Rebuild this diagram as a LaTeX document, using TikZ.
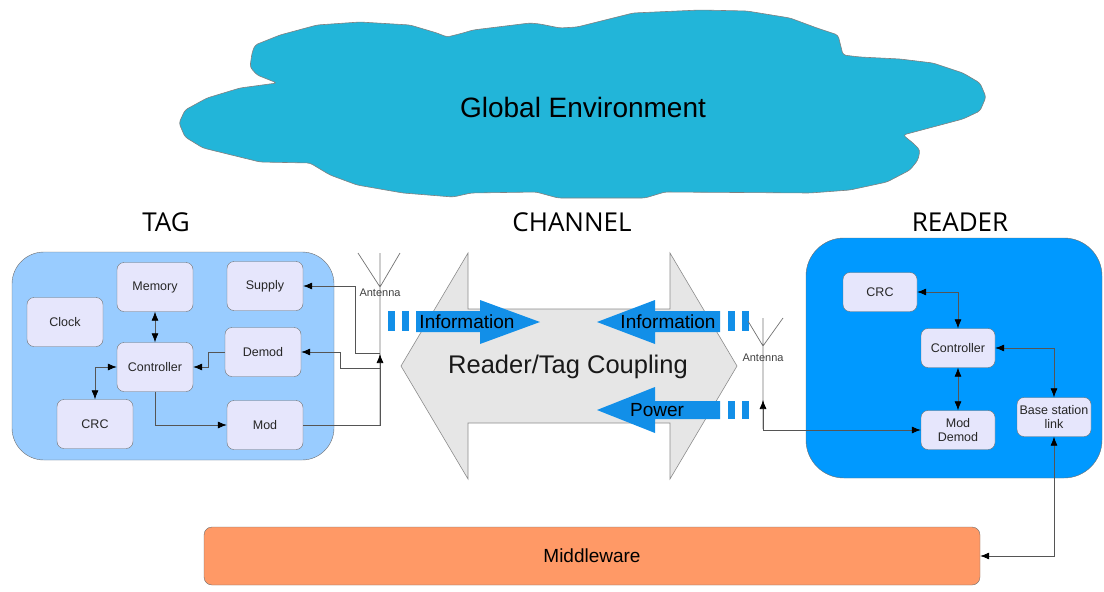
\documentclass[tikz,border=0pt]{standalone}
\usepackage{fontspec}
\setmainfont{Liberation Sans}
\newfontfamily\headfont{Open Sans}
\usetikzlibrary{arrows.meta,positioning}
\definecolor{cloudblue}{RGB}{34,181,217}
\definecolor{tagblue}{RGB}{153,204,255}
\definecolor{readblue}{RGB}{0,153,255}
\definecolor{flowblue}{RGB}{18,143,232}
\definecolor{boxlav}{RGB}{230,230,252}
\definecolor{chgray}{RGB}{230,230,230}
\definecolor{midorange}{RGB}{255,153,102}
\definecolor{edgegray}{RGB}{110,110,110}
\definecolor{wiregray}{RGB}{85,85,85}

\begin{document}
\begin{tikzpicture}[x=1pt, y=-1pt,
  unit/.style={draw=edgegray, fill=boxlav, rounded corners=7pt, inner sep=0pt, align=center, text=black!85, font=\fontsize{12.5}{14}\selectfont},
  tagunit/.style={unit, minimum width=76pt, minimum height=49pt},
  rdunit/.style={unit, minimum width=74pt, minimum height=39pt},
  wire/.style={wiregray, line width=0.7pt},
  onehead/.style={wire, -{Latex[length=9pt,width=7pt,color=black]}},
  twohead/.style={wire, {Latex[length=9pt,width=7pt,color=black]}-{Latex[length=9pt,width=7pt,color=black]}},
  heading/.style={font=\headfont\fontsize{26}{30}\selectfont},
  flowtext/.style={font=\fontsize{19}{22}\selectfont, inner sep=0pt},
  antlabel/.style={font=\fontsize{11}{12}\selectfont, text=black!75, inner sep=0pt}]
\useasboundingbox (0,0) rectangle (1104,592);

% Global environment cloud
\draw[draw=black!50, fill=cloudblue, line width=0.6pt, rounded corners=3pt]
  (179,123) -- (185,110) -- (207,98) -- (240,88) -- (277,83) -- (257,75) -- (250,67) -- (252,53)
  -- (255,45) -- (280,35) -- (317,25) -- (360,22) -- (410,25) -- (437,33) -- (447,37) -- (463,33)
  -- (473,30) -- (530,23) -- (540,24) -- (560,28) -- (577,27) -- (633,13) -- (700,10) -- (747,11)
  -- (790,18) -- (817,28) -- (838,35) -- (843,55) -- (860,57) -- (900,59) -- (933,63) -- (963,73)
  -- (980,83) -- (986,97) -- (980,111) -- (963,119) -- (933,127) -- (903,135) -- (913,143) -- (920,150)
  -- (918,160) -- (910,170) -- (887,182) -- (850,190) -- (810,193) -- (665,192) -- (645,198) -- (558,198)
  -- (536,192) -- (471,193) -- (453,197) -- (403,193) -- (357,185) -- (330,175) -- (310,163) -- (260,162)
  -- (203,148) -- (185,137) -- cycle;
\node[font=\fontsize{28}{32}\selectfont] (global) at (583,107) {Global Environment};

\node[heading] (taghead) at (166,222) {TAG};
\node[heading] (chanhead) at (572,222) {CHANNEL};
\node[heading] (readhead) at (960,222) {READER};

% Tag
\node[draw=edgegray, fill=tagblue, rounded corners=32pt, minimum width=322pt, minimum height=208pt] (tagbox) at (173,356) {};
\node[tagunit] (memory) at (155,287) {Memory};
\node[tagunit] (supply) at (265,286) {Supply};
\node[tagunit] (clock) at (65,322) {Clock};
\node[tagunit] (tagctrl) at (155,367) {Controller};
\node[tagunit] (demod) at (263,352) {Demod};
\node[tagunit] (tagcrc) at (95,424) {CRC};
\node[tagunit] (mod) at (265,425) {Mod};

% Tag antenna
\draw[wire, black!55] (358,253) -- (380,287) -- (400,253) (380,253) -- (380,425);
\node[antlabel] (tagant) at (380,293) {Antenna};
\coordinate (tagsup) at (380,353);
\coordinate (tagdem) at (380,368);
\coordinate (tagfoot) at (380,425);
\coordinate (tagtip) at (380,354);

\draw[twohead] (memory) -- (tagctrl);
\draw[twohead] (tagctrl.west) -| (tagcrc.north);
\draw[onehead] (demod.west) -- ++(-16,0) |- (tagctrl.east);
\draw[onehead] (tagctrl.south) |- (mod.west);
\draw[onehead] (mod.east) -- (tagfoot) -- (tagtip);
\draw[onehead] (tagsup) -- ++(-25,0) |- (supply.east);
\draw[onehead] (tagdem) -- ++(-40,0) |- (demod.east);

% Channel
\draw[draw=black!45, fill=chgray, line width=0.6pt]
  (401,366) -- (468,253) -- (468,309) -- (670,309) -- (670,253) -- (737,366)
  -- (670,479) -- (670,423) -- (468,423) -- (468,479) -- cycle;
\node[font=\fontsize{25.5}{28}\selectfont, text=black!90] (coupling) at (568,367) {Reader/Tag Coupling};

\fill[flowblue] (416,311) -- (480,311) -- (480,300) -- (540,322) -- (480,344) -- (480,332) -- (416,332) -- cycle;
\fill[flowblue] (720,311) -- (655,311) -- (655,300) -- (597,322) -- (655,344) -- (655,332) -- (720,332) -- cycle;
\fill[flowblue] (720,401) -- (655,401) -- (655,387) -- (597,410) -- (655,433) -- (655,419) -- (720,419) -- cycle;
\foreach \x in {388,402} \fill[flowblue] (\x,311) rectangle ++(7,20);
\foreach \x in {728,742} {
  \fill[flowblue] (\x,311) rectangle ++(7,20);
  \fill[flowblue] (\x,401) rectangle ++(7,18);
}
\node[flowtext] (infoin) at (467,322) {Information};
\node[flowtext] (infoout) at (668,322) {Information};
\node[flowtext] (power) at (657,410) {Power};

% Reader
\node[draw=edgegray, fill=readblue, rounded corners=38pt, minimum width=296pt, minimum height=240pt] (readbox) at (954,358) {};
\node[rdunit] (rdcrc) at (880,292) {CRC};
\node[rdunit] (rdctrl) at (958,348) {Controller};
\node[rdunit] (moddemod) at (958,430) {Mod\\Demod};
\node[rdunit] (baselink) at (1054,417) {Base station\\link};

% Reader antenna
\draw[wire, black!55] (748,321) -- (763,346) -- (783,318) (763,318) -- (763,429);
\node[antlabel] (rdant) at (763,358) {Antenna};
\coordinate (rdtip) at (763,400);
\coordinate (rdfoot) at (763,430);

\draw[twohead] (rdcrc.east) -| (rdctrl.north);
\draw[twohead] (rdctrl) -- (moddemod);
\draw[twohead] (rdctrl.east) -| (baselink.north);
\draw[twohead] (rdtip) -- (rdfoot) -- (moddemod.west);

% Middleware
\node[draw=edgegray, fill=midorange, rounded corners=8pt, minimum width=776pt, minimum height=58pt, font=\fontsize{19}{22}\selectfont] (middleware) at (592,556) {Middleware};
\draw[twohead] (baselink.south) |- (middleware.east);
\end{tikzpicture}
\end{document}
